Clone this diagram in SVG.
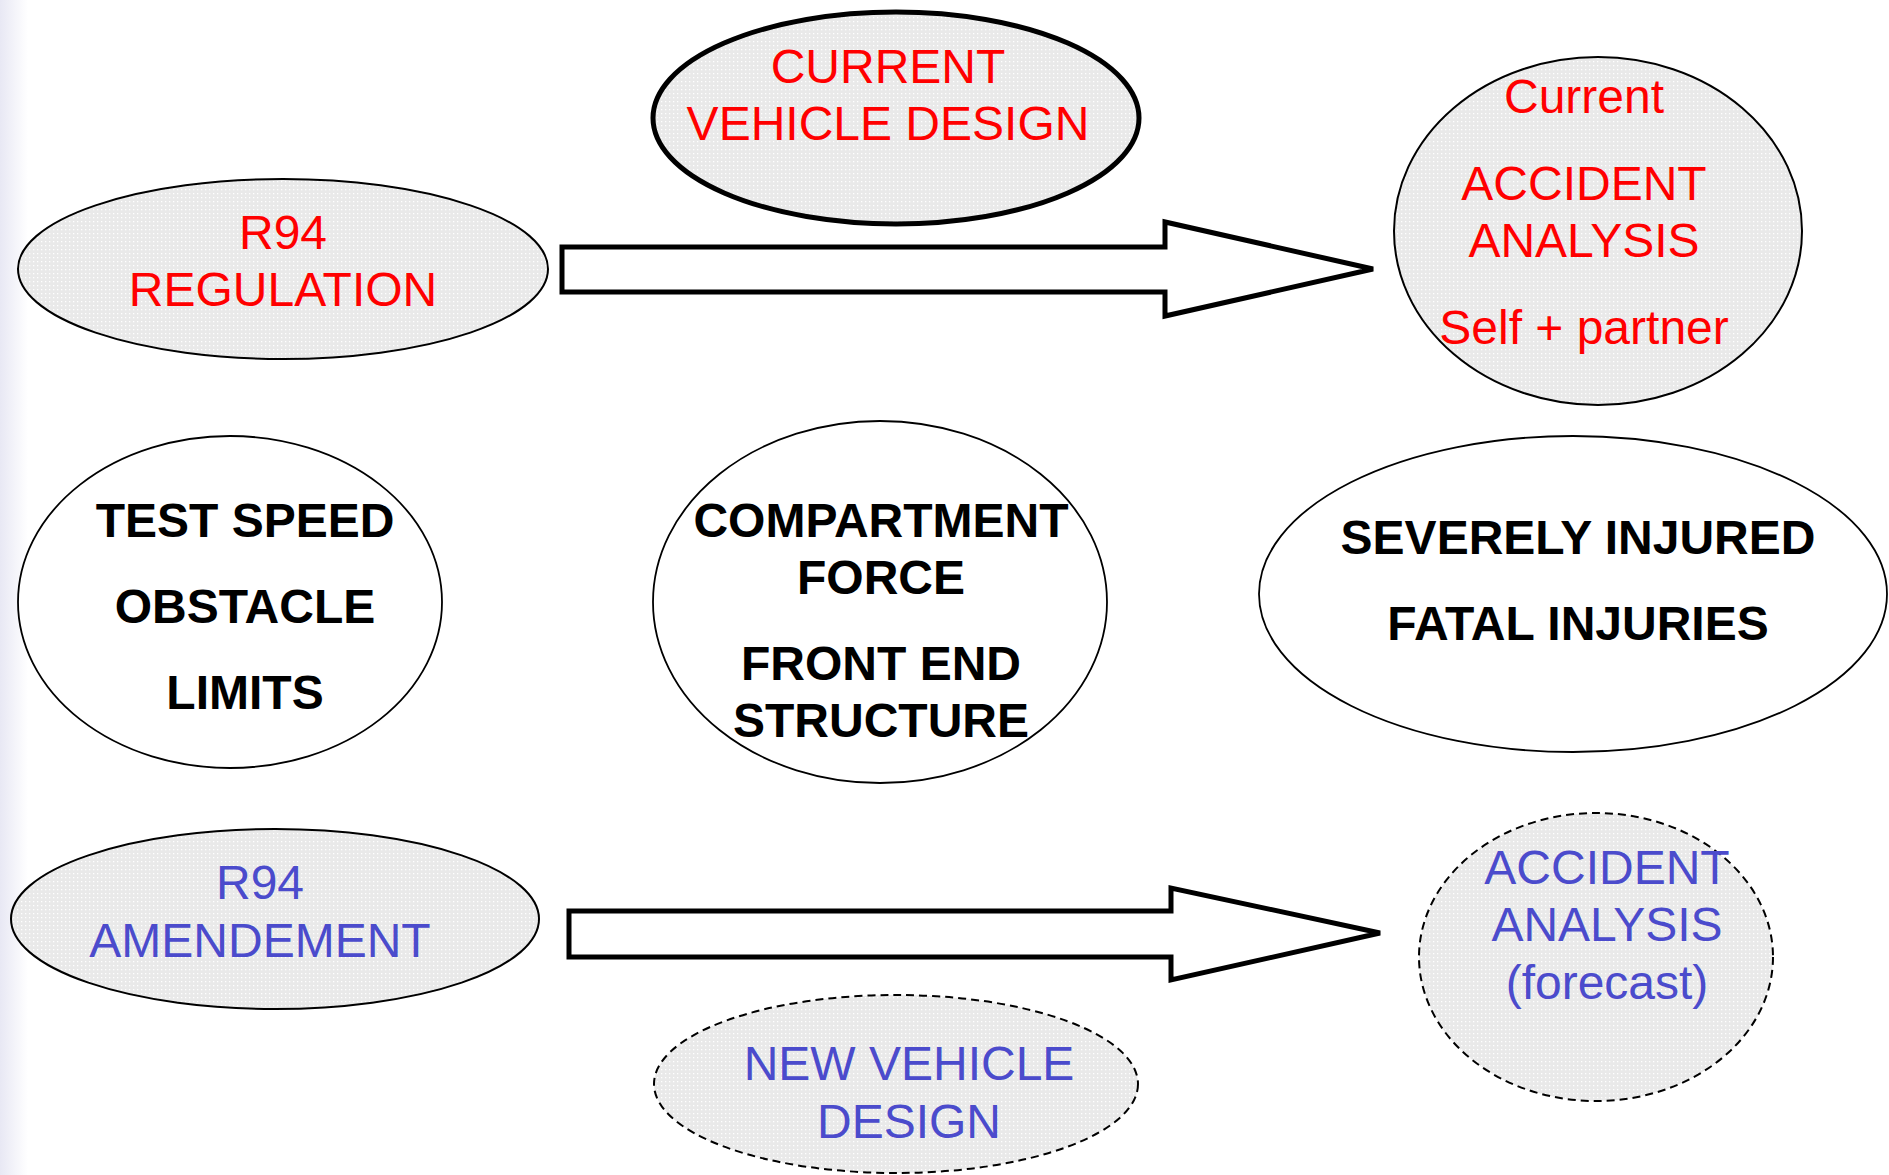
<svg xmlns="http://www.w3.org/2000/svg" width="1889" height="1175" viewBox="0 0 1889 1175">
<defs>
<linearGradient id="edge" x1="0" y1="0" x2="1" y2="0">
<stop offset="0" stop-color="#e8e8f4"/>
<stop offset="1" stop-color="#ffffff"/>
</linearGradient>
<pattern id="dots" width="4" height="4" patternUnits="userSpaceOnUse">
<rect width="4" height="4" fill="#e9e9e9"/>
<rect x="1" y="1" width="1.3" height="1.3" fill="#ffffff"/>
</pattern>
</defs>
<style>
.sh{fill:url(#dots);stroke:#000;stroke-width:2}
.wh{fill:#fff;stroke:#000;stroke-width:1.8}
.thick{stroke-width:5}
.dash{stroke-dasharray:8 5}
.arrow{fill:#fff;stroke:#000;stroke-width:5;stroke-linejoin:miter}
text{font-family:"Liberation Sans",Arial,sans-serif;font-size:48px;text-anchor:middle}
.red{fill:#ff0000}
.blue{fill:#4b4bcc}
.bold{font-weight:bold;fill:#000}
</style>
<rect width="1889" height="1175" fill="#fff"/>
<rect x="0" y="0" width="28" height="1175" fill="url(#edge)"/>
<g id="connectors">
<path class="arrow" d="M562,247 H1165 V222 L1373,269 L1165,316 V292 H562 Z"/>
<path class="arrow" d="M569,911 H1171 V888 L1380,933 L1171,980 V957 H569 Z"/>
</g>
<g id="r94-regulation">
<ellipse class="sh" cx="283" cy="269" rx="265" ry="90"/>
<text class="red" x="283" y="249">R94</text>
<text class="red" x="283" y="306">REGULATION</text>
</g>
<g id="current-vehicle-design">
<ellipse class="sh thick" cx="896" cy="118" rx="243" ry="106"/>
<text class="red" x="888" y="83">CURRENT</text>
<text class="red" x="888" y="140">VEHICLE DESIGN</text>
</g>
<g id="current-accident-analysis">
<ellipse class="sh" cx="1598" cy="231" rx="204" ry="174"/>
<text class="red" x="1584" y="113">Current</text>
<text class="red" x="1584" y="200">ACCIDENT</text>
<text class="red" x="1584" y="257">ANALYSIS</text>
<text class="red" x="1584" y="344">Self + partner</text>
</g>
<g id="test-speed">
<ellipse class="wh" cx="230" cy="602" rx="212" ry="166"/>
<text class="bold" x="245" y="537">TEST SPEED</text>
<text class="bold" x="245" y="623">OBSTACLE</text>
<text class="bold" x="245" y="709">LIMITS</text>
</g>
<g id="compartment">
<ellipse class="wh" cx="880" cy="602" rx="227" ry="181"/>
<text class="bold" x="881" y="537">COMPARTMENT</text>
<text class="bold" x="881" y="594">FORCE</text>
<text class="bold" x="881" y="680">FRONT END</text>
<text class="bold" x="881" y="737">STRUCTURE</text>
</g>
<g id="injuries">
<ellipse class="wh" cx="1573" cy="594" rx="314" ry="158"/>
<text class="bold" x="1578" y="554">SEVERELY INJURED</text>
<text class="bold" x="1578" y="640">FATAL INJURIES</text>
</g>
<g id="r94-amendement">
<ellipse class="sh" cx="275" cy="919" rx="264" ry="90"/>
<text class="blue" x="260" y="899">R94</text>
<text class="blue" x="260" y="957">AMENDEMENT</text>
</g>
<g id="new-vehicle-design">
<ellipse class="sh dash" cx="896" cy="1084" rx="242" ry="89"/>
<text class="blue" x="909" y="1080">NEW VEHICLE</text>
<text class="blue" x="909" y="1138">DESIGN</text>
</g>
<g id="forecast-accident-analysis">
<ellipse class="sh dash" cx="1596" cy="957" rx="177" ry="144"/>
<text class="blue" x="1607" y="884">ACCIDENT</text>
<text class="blue" x="1607" y="941">ANALYSIS</text>
<text class="blue" x="1607" y="999">(forecast)</text>
</g>
</svg>
